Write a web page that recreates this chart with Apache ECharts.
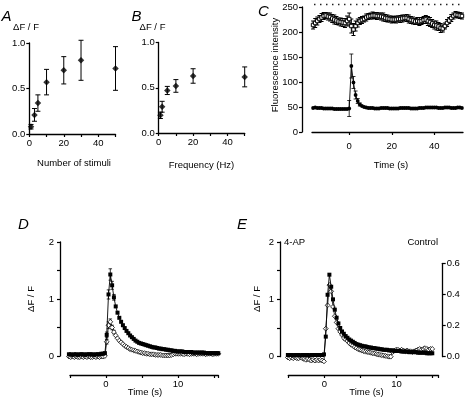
<!DOCTYPE html>
<html><head><meta charset="utf-8">
<script src="https://cdn.jsdelivr.net/npm/echarts@6/dist/echarts.min.js"></script>
<style>html,body{margin:0;padding:0;background:#fff}#c{width:468px;height:401px}</style>
</head><body><div id="c"></div>
<script>
// ---- Panel A: response vs number of stimuli ----
const stimuliA = [1, 3, 5, 10, 20, 30, 50];
const dffA = [0.08, 0.21, 0.34, 0.57, 0.70, 0.81, 0.72];
const errA = [0.025, 0.07, 0.09, 0.14, 0.15, 0.22, 0.24];
// ---- Panel B: response vs frequency ----
const freqB = [1, 2, 5, 10, 20, 50];
const dffB = [0.195, 0.29, 0.47, 0.52, 0.63, 0.62];
const errB = [0.035, 0.06, 0.045, 0.07, 0.08, 0.11];
// ---- Panel C: fluorescence intensity, 1 s frames from -17 s ----
const tStartC = -17, dtC = 1;
const upperC = [214,218,222,226,229,232,233,231,230,227,225,223,221,220,219,218,222,
  226,212,205,212,218,222,224,226,229,231,
  232,233,233,232,232,231,230,228,227,226, 225,225,225,226,226,227,228,228,226,224,
  223,221,222,221,222,224,225,222,220,217, 214,213,211,208,207,212,218,223,228,232,
  235,234,233,232];
const errUpperC = [8,9,8,7,8,7,6,7,8,8,9,8,7,8,8,9,10,
  12,14,12,10,8,7,7,6,7,6,
  6,7,6,7,6,7,8,7,7,6, 7,6,7,6,7,7,6,7,8,7, 7,6,7,8,7,7,8,9,9,8, 8,9,8,9,7,6,7,6,7,6,
  6,6,6,6];
const lowerC = [48,49,48,48,48,47,47,47,47,47,46,46,46,46,46,46,46,
  47,132,99,74,62,55,52,50,49,48,
  48,48,47,47,47,48,48,48,48,47, 47,47,47,47,48,48,48,48,48,47, 47,47,47,48,48,48,49,49,49,49,
  49,49,48,48,48,49,49,49,48,48, 48,49,49,48];
const errTimesC = [0, 1, 2, 3, 4, 5];
const errLowerC = [16, 24, 12, 8, 5, 3];
const saturationC = 255;
const saturationSpanC = [-16.5, 53];
// ---- Panel D: 0.25 s frames ----
const tStartD = -5.15, dtD = 0.25;
const filledD = [0.03,0.03,0.02,0.03,0.03,0.02,0.03,0.03,0.03,0.02, 0.03,0.03,0.03,0.03,0.02,0.03,0.03,0.03,0.04,0.04, 0.05,
  0.37,1.08,1.43,1.24,1.03,0.87,0.76,0.67,0.60,0.54, 0.49,0.44,0.40,0.36,0.33,0.30,0.27,0.25,0.23,0.22,
  0.21,0.20,0.19,0.18,0.17,0.16,0.15,0.15,0.14,0.13, 0.13,0.12,0.12,0.11,0.11,0.10,0.10,0.09,0.09,0.08,
  0.08,0.08,0.08,0.07,0.07,0.07,0.07,0.07,0.06,0.06, 0.06,0.06,0.06,0.06,0.06,0.05,0.05,0.05,0.05,0.05, 0.05,0.05,0.05];
const openD = [-0.01,-0.02,-0.01,-0.02,-0.01,-0.02,-0.02,-0.01,-0.02,-0.01, -0.02,-0.01,-0.02,-0.02,-0.01,-0.02,-0.01,-0.02,-0.01,-0.01, 0.00,
  0.25,0.54,0.60,0.50,0.42,0.36,0.31,0.27,0.24,0.21, 0.18,0.16,0.14,0.12,0.11,0.10,0.09,0.08,0.07,0.06,
  0.05,0.05,0.04,0.04,0.03,0.03,0.03,0.02,0.02,0.02, 0.02,0.01,0.01,0.01,0.01,0.01,0.02,0.03,0.04,0.04,
  0.04,0.04,0.04,0.03,0.04,0.04,0.03,0.04,0.04,0.04, 0.03,0.04,0.04,0.04,0.04,0.03,0.04,0.04,0.04,0.03, 0.04,0.04,0.04];
const errIdxD = [21, 22, 23, 24, 25];
const errFilledD = [0.05, 0.08, 0.10, 0.07, 0.05];
const errOpenD = [0.04, 0.06, 0.05, 0.04, 0.03];
// ---- Panel E: 4-AP (left axis) and Control (right axis) ----
const tStartE = -5.06, dtE = 0.25;
const fourAPE = [0.03,0.03,0.03,0.02,0.03,0.03,0.03,0.02,0.03,0.03, 0.03,0.03,0.02,0.03,0.03,0.03,0.03,0.03,0.03,0.03, 0.04,
  0.35,1.08,1.43,1.22,1.00,0.82,0.68,0.58,0.50,0.44, 0.40,0.36,0.33,0.30,0.28,0.26,0.24,0.22,0.21,0.20,
  0.19,0.18,0.18,0.17,0.16,0.16,0.15,0.15,0.14,0.14, 0.13,0.13,0.12,0.12,0.12,0.11,0.11,0.11,0.10,0.10,
  0.10,0.10,0.09,0.09,0.09,0.09,0.08,0.08,0.08,0.08, 0.08,0.07,0.07,0.07,0.07,0.07,0.06,0.06,0.06,0.06];
const controlE = [-0.005,-0.01,-0.005,-0.01,-0.005,-0.01,-0.01,-0.005,-0.01,-0.015, -0.02,-0.015,-0.02,-0.025,-0.02,-0.025,-0.02,-0.025,-0.02,-0.025, -0.03,
  0.18,0.33,0.46,0.42,0.32,0.26,0.22,0.18,0.16,0.14, 0.12,0.11,0.10,0.088,0.077,0.07,0.062,0.055,0.048,0.044,
  0.04,0.036,0.032,0.03,0.028,0.025,0.022,0.02,0.017,0.014, 0.012,0.01,0.008,0.005,0.003,0.0,0.0,0.03,0.04,0.045,
  0.045,0.04,0.045,0.04,0.035,0.04,0.035,0.035,0.03,0.035, 0.04,0.045,0.05,0.045,0.05,0.055,0.05,0.045,0.05,0.05];

const FONT = "'Liberation Sans', Arial, sans-serif";
const pairs = (t0, dt, ys) => ys.map((v, i) => [+(t0 + dt * i).toFixed(3), v]);
const xyPairs = (xs, ys) => xs.map((x, i) => [x, ys[i]]);
const errTriples = (xs, ys, es) => xs.map((x, i) => [x, ys[i] - es[i], ys[i] + es[i]]);

function errSeries(xi, yi, data, cap, lw) {
  return {
    type: 'custom', xAxisIndex: xi, yAxisIndex: yi, data: data, clip: false, z: 3,
    encode: {x: 0, y: [1, 2]},
    renderItem: function (params, api) {
      const x = api.value(0), lo = api.value(1), hi = api.value(2);
      const p1 = api.coord([x, lo]), p2 = api.coord([x, hi]);
      const h = cap / 2, st = {stroke: '#000', lineWidth: lw};
      return {type: 'group', children: [
        {type: 'line', shape: {x1: p1[0], y1: p1[1], x2: p2[0], y2: p2[1]}, style: st},
        {type: 'line', shape: {x1: p1[0] - h, y1: p1[1], x2: p1[0] + h, y2: p1[1]}, style: st},
        {type: 'line', shape: {x1: p2[0] - h, y1: p2[1], x2: p2[0] + h, y2: p2[1]}, style: st}
      ]};
    }
  };
}

const lineStyle = {color: '#000', width: 1.3};
const lbl = (extra) => Object.assign({color: '#000', fontSize: 9.5, fontFamily: FONT, margin: 4}, extra);
function xAx(gi, min, max, extra) {
  return Object.assign({
    type: 'value', gridIndex: gi, min: min, max: max,
    axisLine: {show: true, onZero: false, lineStyle: lineStyle},
    axisTick: {show: true, length: 3, lineStyle: {color: '#000', width: 1.2}},
    axisLabel: lbl({}),
    splitLine: {show: false}
  }, extra);
}
function yAx(gi, min, max, interval, fmt, extra) {
  return Object.assign({
    type: 'value', gridIndex: gi, min: min, max: max, interval: interval,
    axisLine: {show: true, onZero: false, lineStyle: lineStyle},
    axisTick: {show: true, length: 3, lineStyle: {color: '#000', width: 1.2}},
    axisLabel: lbl({formatter: fmt}),
    splitLine: {show: false}
  }, extra);
}
const only = (vals) => (v) => vals.includes(Math.round(v * 1000) / 1000) ? String(v) : '';

const texts = [
  ['A', 1.5, 17, 15, 'left', 0, 'italic'],
  ['B', 131.5, 17, 15, 'left', 0, 'italic'],
  ['C', 258, 12, 15, 'left', 0, 'italic'],
  ['D', 18, 225, 15, 'left', 0, 'italic'],
  ['E', 237, 225, 15, 'left', 0, 'italic'],
  ['\u0394F / F', 26, 27, 9.5, 'center', 0],
  ['\u0394F / F', 152.5, 27, 9.5, 'center', 0],
  ['Number of stimuli', 74, 163, 9.5, 'center', 0],
  ['Frequency (Hz)', 201.5, 165, 9.5, 'center', 0],
  ['Time (s)', 391, 165, 9.5, 'center', 0],
  ['Fluorescence intensity', 275, 65, 9.5, 'center', Math.PI / 2],
  ['\u0394F / F', 31, 299, 9.5, 'center', Math.PI / 2],
  ['Time (s)', 145, 392.5, 9.5, 'center', 0],
  ['\u0394F / F', 257, 299, 9.5, 'center', Math.PI / 2],
  ['Time (s)', 366.5, 392.5, 9.5, 'center', 0],
  ['4-AP', 284, 242.5, 9.5, 'left', 0],
  ['Control', 438, 242.5, 9.5, 'right', 0]
];

const chart = echarts.init(document.getElementById('c'), null, {renderer: 'canvas'});
const gridBase = {containLabel: false, outerBoundsMode: 'none', show: false};
const option = {
  animation: false,
  backgroundColor: '#fff',
  grid: [
    Object.assign({left: 29.3, top: 43, width: 86.2, height: 91}, gridBase),
    Object.assign({left: 158.7, top: 42.5, width: 86, height: 90.5}, gridBase),
    Object.assign({left: 312, top: 7, width: 151, height: 125}, gridBase),
    Object.assign({left: 70, top: 242, width: 148.3, height: 114}, gridBase),
    Object.assign({left: 288.3, top: 242, width: 150.2, height: 114.7}, gridBase),
    Object.assign({left: 288.3, top: 263.3, width: 150.2, height: 93.4}, gridBase)
  ],
  xAxis: [
    xAx(0, 0, 50, {interval: 10, axisLabel: lbl({formatter: only([0, 20, 40])})}),
    xAx(1, 0, 50, {interval: 10, axisLabel: lbl({formatter: only([0, 20, 40])})}),
    xAx(2, -17.5, 53.5, {
      axisTick: {show: true, length: 3, lineStyle: {color: '#000', width: 1.2}, customValues: [0, 20, 40]},
      axisLabel: lbl({margin: 9, customValues: [0, 20, 40]})}),
    xAx(3, -5, 15.6, {interval: 5, offset: 19, axisLabel: lbl({formatter: only([0, 10])})}),
    xAx(4, -5, 15.8, {interval: 5, offset: 18.3, axisLabel: lbl({formatter: only([0, 10])})}),
    xAx(5, -5, 15.8, {show: false})
  ],
  yAxis: [
    yAx(0, 0, 1, 0.5, (v) => v.toFixed(1)),
    yAx(1, 0, 1, 0.5, (v) => v.toFixed(1)),
    yAx(2, 0, 250, 50, (v) => String(v), {offset: 10}),
    yAx(3, 0, 2, 0.5, null, {offset: 10, axisLabel: lbl({margin: 6, formatter: only([0, 1, 2])})}),
    yAx(4, 0, 2, 0.5, null, {offset: 8.3, axisLabel: lbl({margin: 6, formatter: only([0, 1, 2])})}),
    yAx(5, 0, 0.6, 0.2, (v) => v.toFixed(1), {position: 'right', offset: 4.2})
  ],
  series: [
    // A
    errSeries(0, 0, errTriples(stimuliA, dffA, errA), 5, 1),
    {type: 'scatter', xAxisIndex: 0, yAxisIndex: 0, data: xyPairs(stimuliA, dffA), symbol: 'diamond', symbolSize: 6.5, itemStyle: {color: '#000'}, z: 4},
    // B
    errSeries(1, 1, errTriples(freqB, dffB, errB), 5, 1),
    {type: 'scatter', xAxisIndex: 1, yAxisIndex: 1, data: xyPairs(freqB, dffB), symbol: 'diamond', symbolSize: 6.5, itemStyle: {color: '#000'}, z: 4},
    // C
    {type: 'line', xAxisIndex: 2, yAxisIndex: 2, data: xyPairs(saturationSpanC, [saturationC, saturationC]), symbol: 'none', clip: false,
      lineStyle: {color: '#000', width: 1.3, type: [1.3, 4.7]}},
    errSeries(2, 2, errTriples(upperC.map((v, i) => tStartC + dtC * i), upperC, errUpperC), 4, 1),
    {type: 'line', xAxisIndex: 2, yAxisIndex: 2, data: pairs(tStartC, dtC, upperC), clip: false, symbol: 'rect', symbolSize: 3.5,
      itemStyle: {color: '#fff', borderColor: '#000', borderWidth: 1}, lineStyle: {color: '#000', width: 1}, z: 4},
    errSeries(2, 2, errTriples(errTimesC, errTimesC.map((t) => lowerC[(t - tStartC) / dtC]), errLowerC), 4, 0.8),
    {type: 'line', xAxisIndex: 2, yAxisIndex: 2, data: pairs(tStartC, dtC, lowerC), clip: false, symbol: 'circle', symbolSize: 3.8,
      itemStyle: {color: '#000'}, lineStyle: {color: '#000', width: 0.9}, z: 4},
    // D
    errSeries(3, 3, errTriples(errIdxD.map((i) => tStartD + dtD * i), errIdxD.map((i) => openD[i]), errOpenD), 3.5, 0.8),
    {type: 'line', xAxisIndex: 3, yAxisIndex: 3, data: pairs(tStartD, dtD, openD), clip: false, symbol: 'diamond', symbolSize: 4.8,
      itemStyle: {color: '#fff', borderColor: '#000', borderWidth: 0.8}, lineStyle: {color: '#000', width: 0.8}, z: 4},
    errSeries(3, 3, errTriples(errIdxD.map((i) => tStartD + dtD * i), errIdxD.map((i) => filledD[i]), errFilledD), 3.5, 0.8),
    {type: 'line', xAxisIndex: 3, yAxisIndex: 3, data: pairs(tStartD, dtD, filledD), clip: false, symbol: 'rect', symbolSize: 4,
      itemStyle: {color: '#000'}, lineStyle: {color: '#000', width: 0.9}, z: 5},
    // E
    {type: 'line', xAxisIndex: 5, yAxisIndex: 5, data: pairs(tStartE, dtE, controlE), clip: false, symbol: 'diamond', symbolSize: 4.8,
      itemStyle: {color: '#fff', borderColor: '#000', borderWidth: 0.8}, lineStyle: {color: '#000', width: 0.8}, z: 4},
    {type: 'line', xAxisIndex: 4, yAxisIndex: 4, data: pairs(tStartE, dtE, fourAPE), clip: false, symbol: 'rect', symbolSize: 4,
      itemStyle: {color: '#000'}, lineStyle: {color: '#000', width: 0.9}, z: 5}
  ],
  graphic: texts.map((t) => ({
    type: 'text', x: t[1], y: t[2], rotation: t[5],
    style: {text: t[0], fill: '#000', font: (t[6] || 'normal') + ' ' + t[3] + 'px ' + FONT,
      textAlign: t[4], align: t[4], textVerticalAlign: 'middle', verticalAlign: 'middle'}
  }))
};
chart.setOption(option);
</script></body></html>
